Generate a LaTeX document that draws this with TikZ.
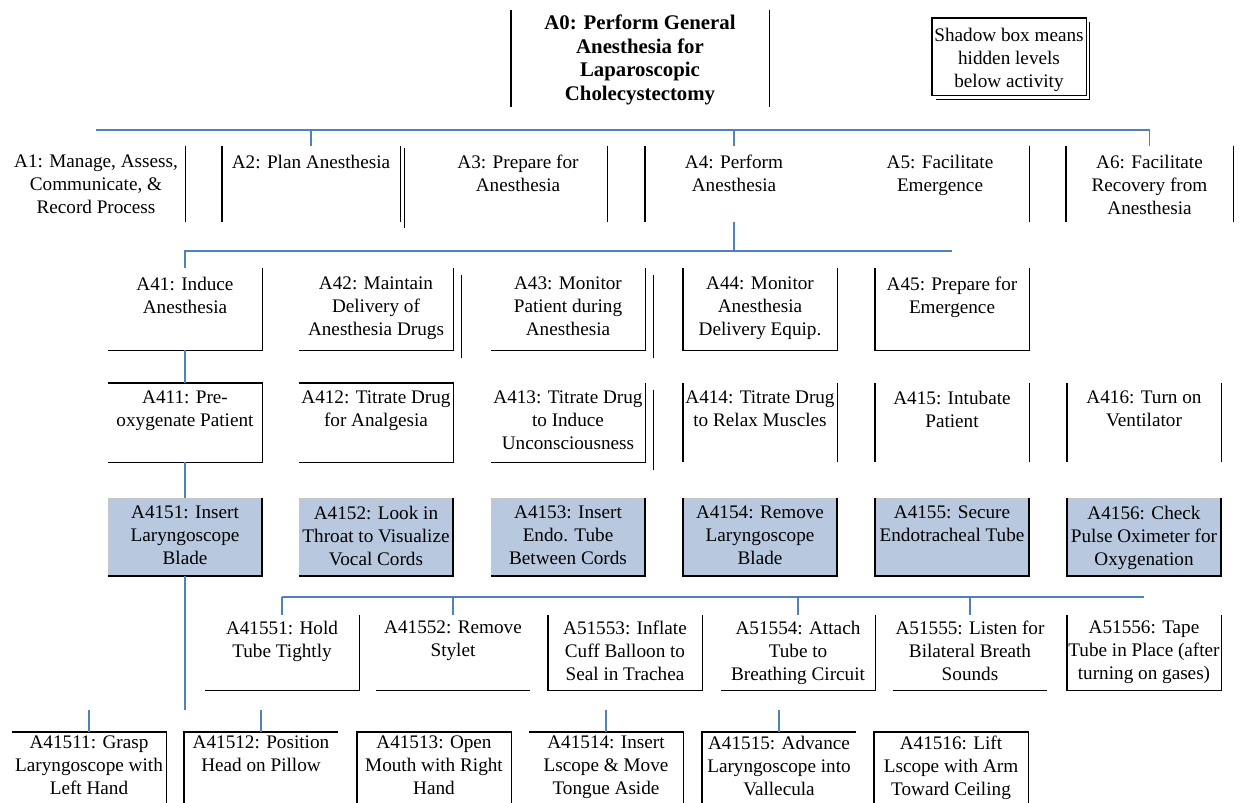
\documentclass[tikz,border=0pt]{standalone}
\usepackage{fontspec}
\setmainfont{Liberation Serif}
\definecolor{linkblue}{RGB}{79,129,189}
\definecolor{hidfill}{RGB}{183,200,223}
\tikzset{
  box/.style={rectangle, inner sep=0pt, minimum width=77pt},
  rowA/.style={box, minimum width=89pt, minimum height=38pt},
  rowB/.style={box, minimum height=41pt},
  rowC/.style={box, minimum height=39.5pt},
  rowD/.style={box, minimum height=39pt, fill=hidfill, draw=gray!45, line width=0.3pt},
  rowE/.style={box, minimum height=37.5pt},
  rowF/.style={box, minimum height=40pt},
  txt/.style={anchor=north, align=center, inner sep=0pt, yshift=-#1, font=\fontsize{9.6}{11.5}\selectfont},
  edge/.style={line width=0.9pt, black},
  link/.style={line width=0.8pt, linkblue},
}
\begin{document}
\begin{tikzpicture}[x=0.5pt, y=-0.5pt]
  \clip (0,0) rectangle (1243,803);
  % top activity and key
  \node[box, minimum width=129pt, minimum height=48.5pt, label={[txt=2.5pt, font=\fontsize{10.4}{11.8}\selectfont\bfseries]above:{A0: Perform General\\Anesthesia for\\Laparoscopic\\Cholecystectomy}}] (a0) at (640,58.5) {};
  \node[box, minimum height=38.5pt, label={[txt=5pt]above:{Shadow box means\\hidden levels\\below activity}}] (key) at (1009,56.5) {};
  % level 1
  \node[rowA, label={[txt=4.5pt]above:{A1: Manage, Assess,\\Communicate, \&\\Record Process}}] (a1) at (96,184) {};
  \node[rowA, label={[txt=4.5pt]above:{A2: Plan Anesthesia}}] (a2) at (311,184) {};
  \node[rowA, label={[txt=4.5pt]above:{A3: Prepare for\\Anesthesia}}] (a3) at (518,184) {};
  \node[rowA, label={[txt=4.5pt]above:{A4: Perform\\Anesthesia}}] (a4) at (734,184) {};
  \node[rowA, label={[txt=4.5pt]above:{A5: Facilitate\\Emergence}}] (a5) at (940,184) {};
  \node[rowA, minimum width=83.5pt, label={[txt=4.5pt]above:{A6: Facilitate\\Recovery from\\Anesthesia}}] (a6) at (1149.5,184) {};
  % level 2
  \node[rowB, label={[txt=4.5pt]above:{A41: Induce\\Anesthesia}}] (a41) at (185,309) {};
  \node[rowB, label={[txt=4.5pt]above:{A42: Maintain\\Delivery of\\Anesthesia Drugs}}] (a42) at (376,309) {};
  \node[rowB, label={[txt=4.5pt]above:{A43: Monitor\\Patient during\\Anesthesia}}] (a43) at (568,309) {};
  \node[rowB, label={[txt=4.5pt]above:{A44: Monitor\\Anesthesia\\Delivery Equip.}}] (a44) at (760,309) {};
  \node[rowB, label={[txt=4.5pt]above:{A45: Prepare for\\Emergence}}] (a45) at (952,309) {};
  % level 3
  \node[rowC, label={[txt=4pt]above:{A411: Pre-\\oxygenate Patient}}] (a411) at (185,422.5) {};
  \node[rowC, label={[txt=4pt]above:{A412: Titrate Drug\\for Analgesia}}] (a412) at (376,422.5) {};
  \node[rowC, label={[txt=4pt]above:{A413: Titrate Drug\\to Induce\\Unconsciousness}}] (a413) at (568,422.5) {};
  \node[rowC, label={[txt=4pt]above:{A414: Titrate Drug\\to Relax Muscles}}] (a414) at (760,422.5) {};
  \node[rowC, label={[txt=4pt]above:{A415: Intubate\\Patient}}] (a415) at (952,422.5) {};
  \node[rowC, label={[txt=4pt]above:{A416: Turn on\\Ventilator}}] (a416) at (1144,422.5) {};
  % level 4 (hidden levels below)
  \node[rowD, label={[txt=4pt]above:{A4151: Insert\\Laryngoscope\\Blade}}] (a4151) at (185,537) {};
  \node[rowD, label={[txt=4pt]above:{A4152: Look in\\Throat to Visualize\\Vocal Cords}}] (a4152) at (376,537) {};
  \node[rowD, label={[txt=4pt]above:{A4153: Insert\\Endo. Tube\\Between Cords}}] (a4153) at (568,537) {};
  \node[rowD, label={[txt=4pt]above:{A4154: Remove\\Laryngoscope\\Blade}}] (a4154) at (760,537) {};
  \node[rowD, label={[txt=4pt]above:{A4155: Secure\\Endotracheal Tube}}] (a4155) at (952,537) {};
  \node[rowD, label={[txt=4pt]above:{A4156: Check\\Pulse Oximeter for\\Oxygenation}}] (a4156) at (1144,537) {};
  % level 5
  \node[rowE, label={[txt=3pt]above:{A41551: Hold\\Tube Tightly}}] (a41551) at (282,652.5) {};
  \node[rowE, label={[txt=3pt]above:{A41552: Remove\\Stylet}}] (a41552) at (453,652.5) {};
  \node[rowE, label={[txt=3pt]above:{A51553: Inflate\\Cuff Balloon to\\Seal in Trachea}}] (a51553) at (625,652.5) {};
  \node[rowE, label={[txt=3pt]above:{A51554: Attach\\Tube to\\Breathing Circuit}}] (a51554) at (798,652.5) {};
  \node[rowE, label={[txt=3pt]above:{A51555: Listen for\\Bilateral Breath\\Sounds}}] (a51555) at (970,652.5) {};
  \node[rowE, label={[txt=3pt]above:{A51556: Tape\\Tube in Place (after\\turning on gases)}}] (a51556) at (1144,652.5) {};
  % level 6
  \node[rowF, label={[txt=2pt]above:{A41511: Grasp\\Laryngoscope with\\Left Hand}}] (a41511) at (89,772) {};
  \node[rowF, label={[txt=2pt]above:{A41512: Position\\Head on Pillow}}] (a41512) at (261,772) {};
  \node[rowF, label={[txt=2pt]above:{A41513: Open\\Mouth with Right\\Hand}}] (a41513) at (434,772) {};
  \node[rowF, label={[txt=2pt]above:{A41514: Insert\\Lscope \& Move\\Tongue Aside}}] (a41514) at (606,772) {};
  \node[rowF, label={[txt=2pt]above:{A41515: Advance\\Laryngoscope into\\Vallecula}}] (a41515) at (779,772) {};
  \node[rowF, label={[txt=2pt]above:{A41516: Lift\\Lscope with Arm\\Toward Ceiling}}] (a41516) at (951,772) {};

  % box sides
  \draw[edge] (key.north west) rectangle (key.south east);
  \draw[edge] ([shift={(3,4)}]key.north east) -- ([shift={(3,4)}]key.south east) -- ([shift={(4,4)}]key.south west);
  \foreach \n in {a1,a3,a5} \draw[edge] (\n.north east) -- (\n.south east);
  \draw[edge] (a4.north west) -- (a4.south west);
  \foreach \n in {a0,a6,a414,a415,a416} {
    \draw[edge] (\n.north west) -- (\n.south west);
    \draw[edge] (\n.north east) -- (\n.south east);
  }
  \draw[edge] (a2.north west) -- (a2.south west);
  \draw[edge] (a2.north east) -- (a2.south east);
  \draw[edge] ([shift={(4,2)}]a2.north east) -- ([shift={(4,6)}]a2.south east);
  \foreach \n in {a42,a43,a413} {
    \draw[edge] (\n.north east) -- (\n.south east) -- (\n.south west);
    \draw[edge] ([shift={(8,7)}]\n.north east) -- ([shift={(8,8)}]\n.south east);
  }
  \foreach \n in {a41,a4151,a4152,a4153,a41551,a51554}
    \draw[edge] (\n.north east) -- (\n.south east) -- (\n.south west);
  \foreach \n in {a44,a45,a4154,a4155,a4156,a51553,a51556}
    \draw[edge] (\n.north west) -- (\n.south west) -- (\n.south east) -- (\n.north east);
  \foreach \n in {a411,a412}
    \draw[edge] (\n.north west) -- (\n.north east) -- (\n.south east) -- (\n.south west);
  \foreach \n in {a41552,a51555} \draw[edge] (\n.south west) -- (\n.south east);
  \foreach \n in {a41511,a41514} \draw[edge] (\n.south east) -- (\n.north east) -- (\n.north west);
  \foreach \n in {a41512,a41515} \draw[edge] (\n.south west) -- (\n.north west) -- (\n.north east);
  \foreach \n in {a41513,a41516}
    \draw[edge] (\n.south west) -- (\n.north west) -- (\n.north east) -- (\n.south east);

  % connectors
  \coordinate (bar1) at (0,130);
  \coordinate (bar2) at (0,251);
  \coordinate (bar3) at (0,597);
  \coordinate (bar4) at (0,710);
  \draw[link] (a1.north |- bar1) -- (a6.north |- bar1) -- (a6.north);
  \foreach \n in {a2,a4} \draw[link] (\n.north) -- (\n.north |- bar1);
  \draw[link] (a4.south) -- (a4.south |- bar2);
  \draw[link] (a45.north |- bar2) -- (a41.north |- bar2) -- (a41.north);
  \draw[link] (a41) -- (a411);
  \draw[link] (a411) -- (a4151);
  \draw[link] (a4151) -- (a4151.south |- bar4);
  \draw[link] (a41551.north |- bar3) -- (a51556.north |- bar3);
  \foreach \n in {a41551,a41552,a51554,a51555} \draw[link] (\n.north) -- (\n.north |- bar3);
  \foreach \n in {a41511,a41512,a41514,a41515} \draw[link] (\n.north) -- (\n.north |- bar4);
\end{tikzpicture}
\end{document}
